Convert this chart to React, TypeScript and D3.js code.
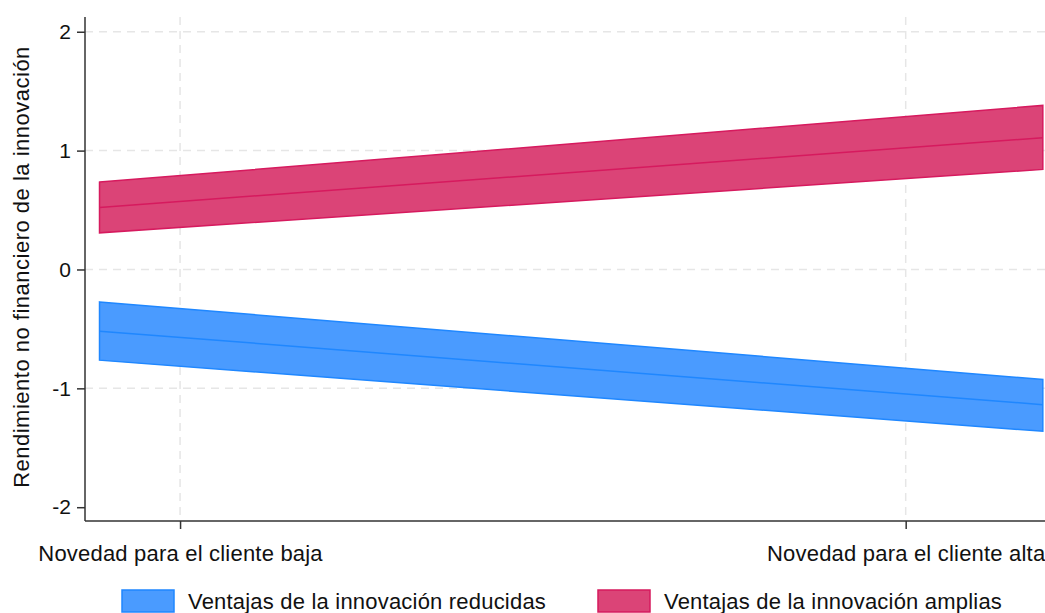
import React, { useEffect, useRef } from 'react';
import * as d3 from 'd3';

// x positions (standardised novelty: -1 = baja, +1 = alta), band ends
const xPoints = [-1.222, 1.378];
const xTicks = [-1, 1];
const xTickLabels = ['Novedad para el cliente baja', 'Novedad para el cliente alta'];
const yTicks = [2, 1, 0, -1, -2];
const yGrid = [2, 1, 0, -1];

const seriesNames = ['Ventajas de la innovación reducidas', 'Ventajas de la innovación amplias'];
const reducidasMid = [-0.519, -1.137];
const reducidasLow = [-0.763, -1.361];
const reducidasHigh = [-0.273, -0.926];
const ampliasMid = [0.522, 1.108];
const ampliasLow = [0.308, 0.842];
const ampliasHigh = [0.735, 1.38];

const fills = ['#4a9bff', '#db4477'];
const strokes = ['#1f87ff', '#d61a5e'];

const W = 1045;
const H = 613;

const App: React.FC = () => {
  const svgRef = useRef<SVGSVGElement>(null);

  useEffect(() => {
    if (!svgRef.current) return;
    const svg = d3.select(svgRef.current);
    svg.selectAll('*').remove();

    const font = '"Liberation Sans", Arial, sans-serif';
    const left = 85;
    const right = 1045;
    const top = 17;
    const bottom = 521;

    const x = d3.scaleLinear().domain([-1.262, 1.384]).range([left, right]);
    const y = d3.scaleLinear().domain([-2.116, 2.124]).range([bottom, top]);

    // grid
    const grid = svg.append('g')
      .attr('stroke', '#e6e6e6')
      .attr('stroke-width', 1.5)
      .attr('stroke-dasharray', '8,6');
    yGrid.forEach(v => {
      grid.append('line')
        .attr('x1', left).attr('x2', right)
        .attr('y1', y(v)).attr('y2', y(v));
    });
    xTicks.forEach(v => {
      grid.append('line')
        .attr('x1', x(v)).attr('x2', x(v))
        .attr('y1', top).attr('y2', bottom);
    });

    // confidence bands + predicted lines
    const series = [
      { mid: reducidasMid, low: reducidasLow, high: reducidasHigh },
      { mid: ampliasMid, low: ampliasLow, high: ampliasHigh },
    ];
    const line = d3.line<number>()
      .x((_, i) => x(xPoints[i]))
      .y(d => y(d));

    series.forEach((s, k) => {
      const band = d3.area<number>()
        .x(i => x(xPoints[i]))
        .y0(i => y(s.low[i]))
        .y1(i => y(s.high[i]));
      svg.append('path')
        .datum([0, 1])
        .attr('d', band)
        .attr('fill', fills[k])
        .attr('stroke', strokes[k])
        .attr('stroke-width', 1.5);
      svg.append('path')
        .datum(s.mid)
        .attr('d', line)
        .attr('fill', 'none')
        .attr('stroke', strokes[k])
        .attr('stroke-width', 1.5);
    });

    // y axis
    const yAxis = svg.append('g')
      .attr('transform', `translate(${left},0)`)
      .call(d3.axisLeft(y).tickValues(yTicks).tickSize(8).tickPadding(6));
    yAxis.select('.domain').attr('stroke', '#333').attr('stroke-width', 1.5)
      .attr('d', `M0,${top}V${bottom}`);
    yAxis.selectAll('.tick line').attr('stroke', '#333').attr('stroke-width', 1.5);
    yAxis.selectAll('.tick text')
      .attr('fill', '#111')
      .style('font-family', font)
      .style('font-size', '21px')
      .text((d: any) => (d < 0 ? '-' + Math.abs(d) : String(d)));

    // x axis
    const xAxis = svg.append('g')
      .attr('transform', `translate(0,${bottom})`)
      .call(d3.axisBottom(x).tickValues(xTicks).tickSize(8).tickPadding(16)
        .tickFormat((_, i) => xTickLabels[i]));
    xAxis.select('.domain').attr('stroke', '#333').attr('stroke-width', 1.5)
      .attr('d', `M${left},0H${right}`);
    xAxis.selectAll('.tick line').attr('stroke', '#333').attr('stroke-width', 1.5);
    xAxis.selectAll('.tick text')
      .attr('fill', '#111')
      .style('font-family', font)
      .style('font-size', '22px')
      .style('letter-spacing', '0.2px');

    // y title
    svg.append('text')
      .attr('transform', `translate(29,${(top + bottom) / 2 - 2}) rotate(-90)`)
      .attr('text-anchor', 'middle')
      .attr('fill', '#111')
      .style('font-family', font)
      .style('font-size', '22px')
      .style('letter-spacing', '0.5px')
      .text('Rendimiento no financiero de la innovación');

    // legend
    const legendX = [122, 598];
    seriesNames.forEach((name, k) => {
      const g = svg.append('g').attr('transform', `translate(${legendX[k]},590)`);
      g.append('rect')
        .attr('x', 0).attr('y', 0)
        .attr('width', 52).attr('height', 22)
        .attr('fill', fills[k])
        .attr('stroke', strokes[k])
        .attr('stroke-width', 1.5);
      g.append('text')
        .attr('x', 66).attr('y', 19)
        .attr('fill', '#111')
        .style('font-family', font)
        .style('font-size', '22px')
        .style('letter-spacing', '0.2px')
        .text(name);
    });
  }, []);

  return (
    <div style={{ position: 'absolute', left: 0, top: 0 }}>
      <svg ref={svgRef} width={W} height={H} style={{ display: 'block', background: '#fff' }} />
    </div>
  );
};

export default App;
